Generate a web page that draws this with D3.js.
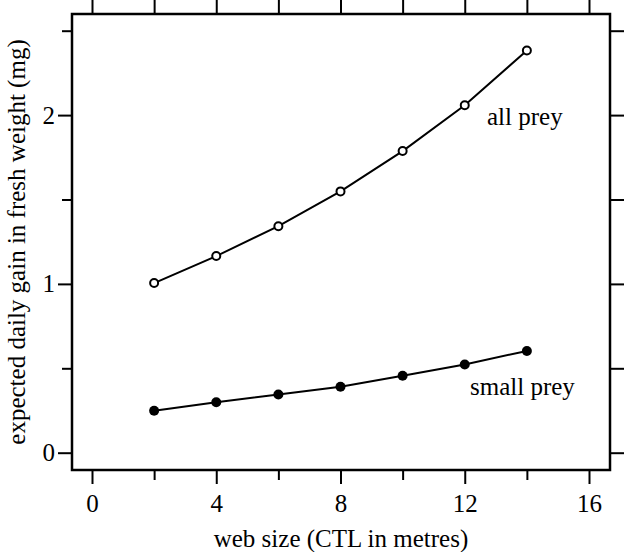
<!DOCTYPE html>
<head>
  <meta charset="utf-8">
  <style>
    body { margin: 0; background: #fff; }
    text { font-family: "Liberation Serif", "DejaVu Serif", serif; fill: #000; }
    .tick text { font-size: 25px; }
    .tick line { stroke: #000; stroke-width: 2; }
    .series { fill: none; stroke: #000; stroke-width: 2; }
  </style>
  <script src="https://d3js.org/d3.v7.min.js"></script>
</head>

<body>
  <div id="content"></div>
  <script>
  // web size (CTL, metres)
  var webSize = [2, 4, 6, 8, 10, 12, 14];
  // expected daily gain in fresh weight (mg)
  var allPrey = [1.005, 1.165, 1.342, 1.548, 1.787, 2.058, 2.383];
  var smallPrey = [0.249, 0.299, 0.345, 0.391, 0.456, 0.523, 0.603];
  var xTicks = [0, 2, 4, 6, 8, 10, 12, 14, 16];
  var xLabels = [0, 4, 8, 12, 16];
  var yTicks = [0, 0.5, 1, 1.5, 2, 2.5];
  var yLabels = [0, 1, 2];

  var W = 624, H = 552;
  // plot frame
  var frame = {left: 72, right: 610, top: 14, bottom: 470};

  var x = d3.scaleLinear().domain([0, 16]).range([92, 589]);
  var y = d3.scaleLinear().domain([0, 2.5]).range([452.7, 30.7]);

  var svg = d3.select("#content").append("svg")
      .attr("width", W)
      .attr("height", H);

  // axes on all four sides
  var bottom = svg.append("g")
      .attr("transform", "translate(0," + frame.bottom + ")")
      .call(d3.axisBottom(x).tickValues(xTicks).tickSize(14).tickPadding(10)
        .tickFormat(function(d) { return xLabels.indexOf(d) >= 0 ? d : ""; }));
  bottom.selectAll(".tick")
      .filter(function(d) { return xLabels.indexOf(d) < 0; })
      .select("line").attr("y2", 10);

  svg.append("g")
      .attr("transform", "translate(0," + frame.top + ")")
      .call(d3.axisTop(x).tickValues(xTicks).tickSize(14).tickFormat(""));

  var left = svg.append("g")
      .attr("transform", "translate(" + frame.left + ",0)")
      .call(d3.axisLeft(y).tickValues(yTicks).tickSize(14).tickPadding(3)
        .tickFormat(function(d) { return yLabels.indexOf(d) >= 0 ? d : ""; }));
  left.selectAll(".tick")
      .filter(function(d) { return yLabels.indexOf(d) < 0; })
      .select("line").attr("x2", -10);

  svg.append("g")
      .attr("transform", "translate(" + frame.right + ",0)")
      .call(d3.axisRight(y).tickValues(yTicks).tickSize(14).tickFormat(""));

  svg.selectAll(".domain").remove();
  svg.selectAll(".tick text").attr("font-family", null);

  svg.append("rect")
      .attr("x", frame.left)
      .attr("y", frame.top)
      .attr("width", frame.right - frame.left)
      .attr("height", frame.bottom - frame.top)
      .attr("fill", "none")
      .attr("stroke", "#000")
      .attr("stroke-width", 2.5);

  var line = d3.line()
      .x(function(d) { return x(d[0]); })
      .y(function(d) { return y(d[1]); });

  var allData = d3.zip(webSize, allPrey);
  var smallData = d3.zip(webSize, smallPrey);

  svg.append("path").datum(allData).attr("class", "series").attr("d", line);
  svg.append("path").datum(smallData).attr("class", "series").attr("d", line);

  svg.selectAll(".open")
      .data(allData)
    .enter().append("circle")
      .attr("class", "open")
      .attr("cx", function(d) { return x(d[0]); })
      .attr("cy", function(d) { return y(d[1]); })
      .attr("r", 4)
      .attr("fill", "#fff")
      .attr("stroke", "#000")
      .attr("stroke-width", 2);

  svg.selectAll(".filled")
      .data(smallData)
    .enter().append("circle")
      .attr("class", "filled")
      .attr("cx", function(d) { return x(d[0]); })
      .attr("cy", function(d) { return y(d[1]); })
      .attr("r", 5)
      .attr("fill", "#000");

  // series labels
  svg.append("text")
      .attr("x", 487).attr("y", 125)
      .style("font-size", "25px")
      .text("all prey");
  svg.append("text")
      .attr("x", 470).attr("y", 395)
      .style("font-size", "25px")
      .text("small prey");

  // axis titles
  svg.append("text")
      .attr("x", 341)
      .attr("y", 547)
      .attr("text-anchor", "middle")
      .style("font-size", "25px")
      .text("web size (CTL in metres)");

  svg.append("text")
      .attr("transform", "translate(25," + (frame.top + frame.bottom) / 2 + ") rotate(-90)")
      .attr("text-anchor", "middle")
      .style("font-size", "25px")
      .text("expected daily gain in fresh weight (mg)");
  </script>
</body>
</html>
